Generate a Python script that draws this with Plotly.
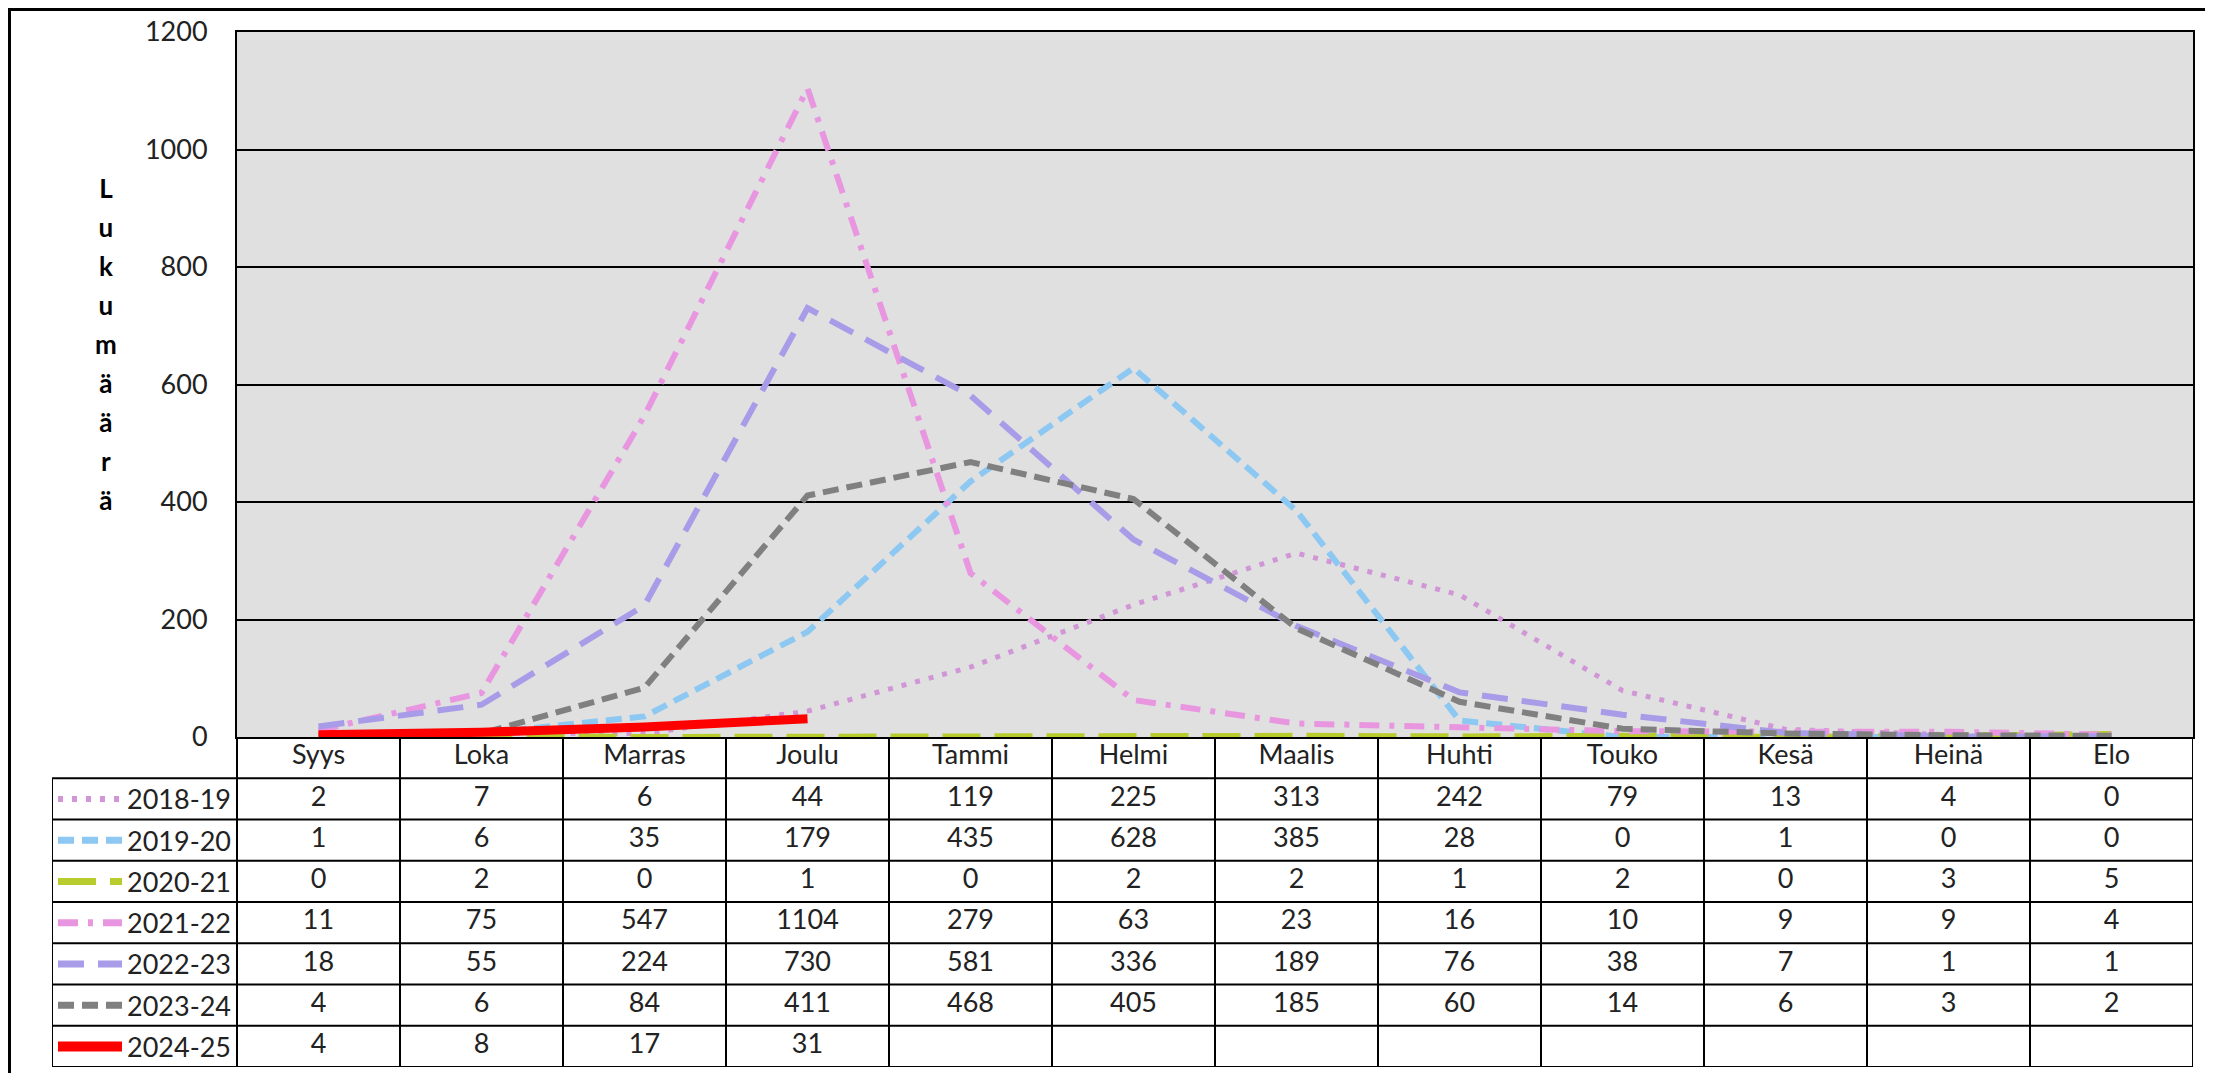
import plotly.graph_objects as go

months = ['Syys', 'Loka', 'Marras', 'Joulu', 'Tammi', 'Helmi', 'Maalis', 'Huhti', 'Touko', 'Kesä', 'Heinä', 'Elo']
seasons = ['2018-19', '2019-20', '2020-21', '2021-22', '2022-23', '2023-24', '2024-25']
s2018_19 = [2, 7, 6, 44, 119, 225, 313, 242, 79, 13, 4, 0]
s2019_20 = [1, 6, 35, 179, 435, 628, 385, 28, 0, 1, 0, 0]
s2020_21 = [0, 2, 0, 1, 0, 2, 2, 1, 2, 0, 3, 5]
s2021_22 = [11, 75, 547, 1104, 279, 63, 23, 16, 10, 9, 9, 4]
s2022_23 = [18, 55, 224, 730, 581, 336, 189, 76, 38, 7, 1, 1]
s2023_24 = [4, 6, 84, 411, 468, 405, 185, 60, 14, 6, 3, 2]
s2024_25 = [4, 8, 17, 31]
y_ticks = [0, 200, 400, 600, 800, 1000, 1200]

series = [s2018_19, s2019_20, s2020_21, s2021_22, s2022_23, s2023_24, s2024_25]

# line styles per season
styles = {
    '2018-19': dict(color='#D096D6', width=5, dash='5px,9px'),
    '2019-20': dict(color='#8CC8F2', width=6, dash='16px,8px'),
    '2020-21': dict(color='#B8CC2E', width=6, dash='38px,14px'),
    '2021-22': dict(color='#E896E0', width=6, dash='20px,10px,5px,10px'),
    '2022-23': dict(color='#A89BE8', width=6, dash='26px,14px'),
    '2023-24': dict(color='#808080', width=6, dash='16px,8px'),
    '2024-25': dict(color='#FF0000', width=9, dash='solid'),
}

# page is 2213x1073, the body has an 8px margin -> shrink the figure by that much
OFF = 8
W, H = 2213 - OFF, 1073 - OFF


def fx(p):  # page pixel -> paper x fraction
    return (p - OFF) / W


def fy(p):  # page pixel -> paper y fraction
    return 1 - (p - OFF) / H


PLOT_L, PLOT_R, PLOT_T, PLOT_B = 237, 2193, 32, 737
TAB_L, TAB_B = 52, 1067
COL_W = (PLOT_R - PLOT_L) / len(months)
x2_left = -0.5 - (PLOT_L - TAB_L) / COL_W
n_rows = len(seasons) + 1

FONT = 'Lato, "Open Sans", sans-serif'
TXT = '#222222'

fig = go.Figure()

# chart lines
for name, vals in zip(seasons, series):
    fig.add_trace(go.Scatter(
        x=list(range(len(vals))), y=vals, mode='lines', name=name,
        line=styles[name], xaxis='x', yaxis='y', showlegend=False,
        hovertemplate='%{y}<extra>' + name + '</extra>'
    ))

# data table: header row
fig.add_trace(go.Scatter(
    x=list(range(len(months))), y=[0.5] * len(months), text=months,
    mode='text', textfont=dict(size=27, color=TXT, family=FONT),
    xaxis='x2', yaxis='y2', showlegend=False, hoverinfo='skip'
))
# data table: value rows
for r, (name, vals) in enumerate(zip(seasons, series), start=1):
    fig.add_trace(go.Scatter(
        x=list(range(len(vals))), y=[r + 0.5] * len(vals), text=[str(v) for v in vals],
        mode='text', textfont=dict(size=27, color=TXT, family=FONT),
        xaxis='x2', yaxis='y2', showlegend=False, hoverinfo='skip'
    ))

shapes = []
# grey plot area (only for the chart, not the table)
shapes.append(dict(type='rect', xref='x domain', yref='y domain', x0=0, x1=1, y0=0, y1=1,
                   fillcolor='#E0E0E0', line=dict(width=0), layer='below'))

line_k = dict(color='black', width=2)
# table borders
for k in range(1, n_rows + 1):
    shapes.append(dict(type='line', xref='x2', yref='y2', x0=x2_left, x1=len(months) - 0.5,
                       y0=k, y1=k, line=line_k))
for i in range(len(months) + 1):
    shapes.append(dict(type='line', xref='x2', yref='y2', x0=i - 0.5, x1=i - 0.5,
                       y0=0, y1=n_rows, line=line_k))
shapes.append(dict(type='line', xref='x2', yref='y2', x0=x2_left, x1=x2_left,
                   y0=1, y1=n_rows, line=line_k))

# legend keys inside the table
annotations = []
key_x0 = -0.5 + (58 - PLOT_L) / COL_W
key_x1 = -0.5 + (122 - PLOT_L) / COL_W
for r, name in enumerate(seasons, start=1):
    st = styles[name]
    shapes.append(dict(type='line', xref='x2', yref='y2', x0=key_x0, x1=key_x1,
                       y0=r + 0.5, y1=r + 0.5,
                       line=dict(color=st['color'], width=st['width'] + 1, dash=st['dash'])))
    annotations.append(dict(text=name, xref='x2', yref='y2', x=-0.5, y=r + 0.5,
                            xanchor='right', yanchor='middle', xshift=-4, showarrow=False,
                            font=dict(size=27, color=TXT, family=FONT)))

# outer frame (top/left edges of the chart object)
shapes.append(dict(type='rect', xref='paper', yref='paper', x0=1.5 / W, x1=1.02,
                   y0=-0.02, y1=1 - 1.5 / H, line=dict(color='black', width=3)))

# vertical stacked y-axis title
letters = 'Lukumäärä'
title_txt = '<br>'.join(f'<span style="font-size:26px">{c}</span>' for c in letters)
annotations.append(dict(text='<b>' + title_txt + '</b>', xref='paper', yref='paper',
                        x=fx(106), y=fy(344), xanchor='center', yanchor='middle',
                        showarrow=False, align='center',
                        font=dict(size=30, color='black', family=FONT)))

fig.update_layout(
    width=W, height=H,
    margin=dict(l=0, r=0, t=0, b=0, autoexpand=False),
    paper_bgcolor='white',
    plot_bgcolor='white',
    font=dict(family=FONT, color=TXT),
    showlegend=False,
    xaxis=dict(domain=[fx(PLOT_L), fx(PLOT_R)], range=[-0.5, len(months) - 0.5],
               showticklabels=False, showgrid=False, zeroline=False, ticks='',
               showline=True, mirror=True, linecolor='black', linewidth=2,
               layer='below traces', fixedrange=True, automargin=False),
    yaxis=dict(domain=[fy(PLOT_B), fy(PLOT_T)], range=[0, 1200],
               tickvals=y_ticks, ticks='', showgrid=True, gridcolor='black', gridwidth=2,
               zeroline=False, showline=True, mirror=True, linecolor='black', linewidth=2,
               tickfont=dict(size=27, color=TXT, family=FONT), ticklabelstandoff=22,
               layer='below traces', fixedrange=True, automargin=False),
    xaxis2=dict(domain=[fx(TAB_L), fx(PLOT_R)], range=[x2_left, len(months) - 0.5],
                anchor='y2', visible=False, fixedrange=True, automargin=False),
    yaxis2=dict(domain=[fy(TAB_B), fy(PLOT_B)], range=[n_rows, 0],
                anchor='x2', visible=False, fixedrange=True, automargin=False),
    shapes=shapes,
    annotations=annotations,
)

fig.write_html("out.html")
